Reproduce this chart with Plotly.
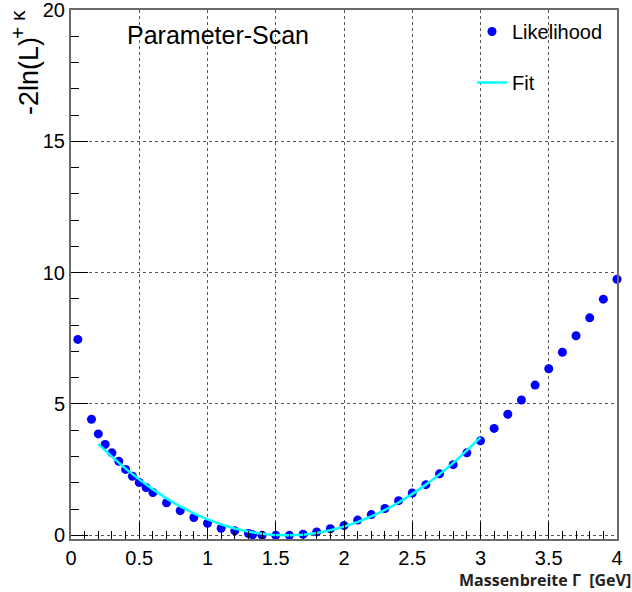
import plotly.graph_objects as go

# Scan points (Massenbreite Gamma in GeV) and -2ln(L)+kappa values
gamma = [0.05, 0.15, 0.2, 0.25, 0.3, 0.35, 0.4, 0.45, 0.5, 0.55, 0.6, 0.7, 0.8, 0.9,
         1.0, 1.1, 1.2, 1.3, 1.33, 1.4, 1.5, 1.6, 1.7, 1.8, 1.9, 2.0, 2.1, 2.2, 2.3,
         2.4, 2.5, 2.6, 2.7, 2.8, 2.9, 3.0, 3.1, 3.2, 3.3, 3.4, 3.5, 3.6, 3.7, 3.8,
         3.9, 4.0]
likelihood = [7.46, 4.42, 3.86, 3.46, 3.14, 2.82, 2.51, 2.25, 2.01, 1.82, 1.63, 1.24,
              0.94, 0.68, 0.46, 0.27, 0.17, 0.07, 0.02, 0.0, 0.0, 0.0, 0.04, 0.13,
              0.25, 0.37, 0.58, 0.79, 1.02, 1.32, 1.61, 1.93, 2.34, 2.69, 3.14, 3.60,
              4.07, 4.61, 5.15, 5.72, 6.34, 6.97, 7.60, 8.28, 8.99, 9.75]

# Fit curve
fit_x = [0.2, 0.4, 0.6, 0.8, 1.0, 1.2, 1.4, 1.6, 1.8, 2.0, 2.2, 2.4, 2.6, 2.8, 3.0]
fit_y = [3.47, 2.54, 1.75, 1.10, 0.61, 0.26, 0.06, 0.0, 0.09, 0.33, 0.72, 1.25,
         1.93, 2.76, 3.73]

x_ticks = [0, 0.5, 1, 1.5, 2, 2.5, 3, 3.5, 4]
x_labels = ["0", "0.5", "1", "1.5", "2", "2.5", "3", "3.5", "4"]
y_ticks = [0, 5, 10, 15, 20]
y_labels = ["0", "5", "10", "15", "20"]

FONT = "Liberation Sans, Arial, sans-serif"

# layout geometry (pixels)
TOP, BOTTOM, LEFT, RIGHT = 10, 539, 71, 617
PH = BOTTOM - TOP
PW = RIGHT - LEFT


def py(p):
    return (BOTTOM - p) / PH


def px(p):
    return (p - LEFT) / PW


fig = go.Figure()
fig.add_trace(go.Scatter(
    x=gamma, y=likelihood, mode="markers", name="Likelihood",
    marker=dict(color="#0000ff", size=9, line=dict(width=0)),
    legendgroup="a", cliponaxis=False,
))
fig.add_trace(go.Scatter(
    x=fit_x, y=fit_y, mode="lines", name="Fit",
    line=dict(color="#00ffff", width=2.5, shape="spline", smoothing=1.0),
    legendgroup="b",
))

axis_common = dict(
    showline=True, mirror=True, linecolor="#6a6a6a", linewidth=2,
    showgrid=True, gridcolor="#555555", griddash="dot", gridwidth=1,
    zeroline=False, ticks="inside", ticklen=17, tickwidth=1, tickcolor="#000000",
    tickfont=dict(family=FONT, size=20, color="#000000"),
    automargin=False, ticklabeloverflow="allow",
)

fig.update_xaxes(
    range=[0, 4], tickvals=x_ticks, ticktext=x_labels,
    minor=dict(ticks="inside", ticklen=8, tickwidth=1, tickcolor="#000000", dtick=0.1,
               tick0=0, showgrid=False),
    **axis_common,
)
fig.update_yaxes(
    range=[-0.14, 20], tickvals=y_ticks, ticktext=y_labels,
    minor=dict(ticks="inside", ticklen=8, tickwidth=1, tickcolor="#000000", dtick=1,
               tick0=0, showgrid=False),
    **axis_common,
)

fig.update_layout(
    width=632, height=592,
    margin=dict(l=LEFT, r=632 - RIGHT, t=TOP, b=592 - BOTTOM),
    paper_bgcolor="white", plot_bgcolor="white",
    showlegend=True,
    legend=dict(
        x=px(472), y=py(12), xanchor="left", yanchor="top",
        bgcolor="rgba(255,255,255,0)", borderwidth=0,
        font=dict(family=FONT, size=20, color="#000000"),
        traceorder="grouped", tracegroupgap=22,
    ),
    annotations=[
        dict(text="Parameter-Scan", xref="paper", yref="paper",
             x=px(217.5), y=py(35), xanchor="center", yanchor="middle",
             showarrow=False, font=dict(family=FONT, size=25, color="#000000")),
        dict(text="-2ln(L)",
             xref="paper", yref="paper", x=0, xshift=-42, y=py(35), yanchor="top",
             xanchor="center", textangle=-90, showarrow=False,
             font=dict(family=FONT, size=27, color="#000000")),
        dict(text="+ κ",
             xref="paper", yref="paper", x=0, xshift=-54, y=py(25),
             yanchor="middle", xanchor="center", textangle=-90, showarrow=False,
             font=dict(family=FONT, size=21, color="#000000")),
        dict(text="<b>Massenbreite Γ \u00a0[GeV]</b>", xref="paper", yref="paper",
             x=px(628), xshift=5, y=py(580), xanchor="right",
             yanchor="middle", showarrow=False,
             font=dict(family="Open Sans, sans-serif", size=16, color="#222222")),
    ],
)

fig.write_html("out.html")
